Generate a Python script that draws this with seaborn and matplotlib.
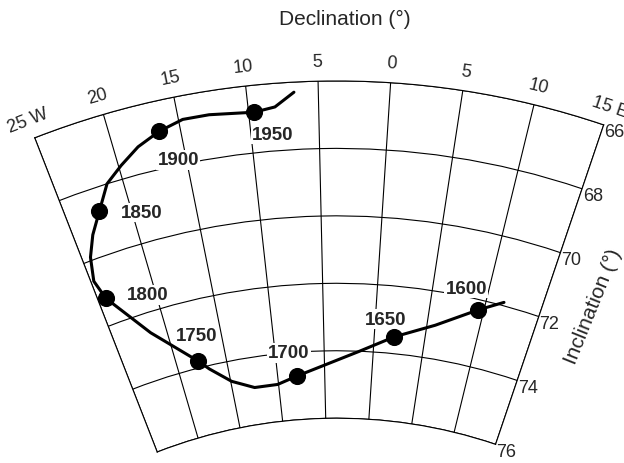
import numpy as np
import matplotlib.pyplot as plt
import seaborn as sns

# grid / axis ticks
dec_ticks = [-25, -20, -15, -10, -5, 0, 5, 10, 15]
dec_labels = ["25 W", "20", "15", "10", "5", "0", "5", "10", "15 E"]
inc_ticks = [66, 68, 70, 72, 74, 76]

# dated points (declination, inclination)
years = [1600, 1650, 1700, 1750, 1800, 1850, 1900, 1950]
year_dec = [9.5, 2.0, -7.9, -17.8, -24.3, -22.4, -16.5, -9.6]
year_inc = [72.3, 73.5, 74.7, 73.8, 71.2, 68.7, 66.9, 66.8]

# where the year labels sit
label_dec = [8.0, 1.0, -8.6, -17.4, -20.7, -19.3, -15.6, -8.4]
label_inc = [71.75, 73.0, 74.0, 73.05, 71.5, 69.1, 67.85, 67.5]

# secular variation path
path_dec = [11.6, 9.5, 5.8, 2.0, -1.4, -7.9, -10.1, -12.6, -14.9, -16.9, -17.8,
            -21.5, -24.3, -24.75, -24.3, -23.5, -22.4, -21.2, -19.8, -18.25,
            -16.5, -14.7, -12.8, -9.6, -8.1, -6.7]
path_inc = [71.9, 72.3, 73.0, 73.5, 74.0, 74.7, 74.9, 74.9, 74.6, 74.1, 73.8,
            72.6, 71.2, 70.6, 69.9, 69.3, 68.7, 68.0, 67.6, 67.2,
            66.9, 66.7, 66.7, 66.8, 66.7, 66.3]

sns.set_style("white")
plt.rcParams['font.family'] = ['Liberation Sans', 'DejaVu Sans']

fig = plt.figure(figsize=(6.24, 4.64), dpi=100)
# square polar axes, the wedge fills its width
side = 569
ax = fig.add_axes([34.7 / 624, 1 - 551 / 464, side / 624, side / 464], projection='polar')

# curve and dots
sns.lineplot(x=np.deg2rad(path_dec), y=path_inc, sort=False, estimator=None,
             color='black', lw=2.2, ax=ax, zorder=4)
sns.scatterplot(x=np.deg2rad(year_dec), y=year_inc, s=130, color='black',
                edgecolor='black', ax=ax, zorder=5)

for y, d, i in zip(years, label_dec, label_inc):
    ax.text(np.deg2rad(d), i, str(y), ha='center', va='center', fontsize=13.5,
            fontweight='bold', zorder=3,
            bbox=dict(facecolor='white', edgecolor='none', pad=1))

ax.set_theta_zero_location('N', offset=-3.7)
ax.set_theta_direction(-1)
ax.set_thetamin(-25)
ax.set_thetamax(15)
ax.set_rlim(76, 66)
ax.set_rorigin(90.67)

ax.set_xticks(np.deg2rad(dec_ticks), dec_labels)
ax.set_yticks(inc_ticks)
ax.tick_params(axis='x', labelrotation='auto', pad=7, labelsize=13, length=0)
ax.yaxis.set_tick_params(label1On=False, label2On=False, length=0)
# inclination labels hang just outside the east edge
for inc in inc_ticks:
    ax.annotate(str(inc), xy=(np.deg2rad(dec_ticks[-1]), inc), xytext=(0.5, 1),
                textcoords='offset points', ha='left', va='top',
                fontsize=13, annotation_clip=False)
ax.set_xlabel("")
ax.set_ylabel("")

ax.grid(True, color='black', lw=0.8)
for s in ax.spines.values():
    s.set_color('black')
    s.set_linewidth(0.8)

fig.text(345 / 624, 1 - 19 / 464, "Declination (°)", ha='center', va='center', fontsize=15)
fig.text(593 / 624, 1 - 307 / 464, "Inclination (°)", rotation=68,
         ha='center', va='center', fontsize=15)

fig.savefig("out.png", dpi=100)
